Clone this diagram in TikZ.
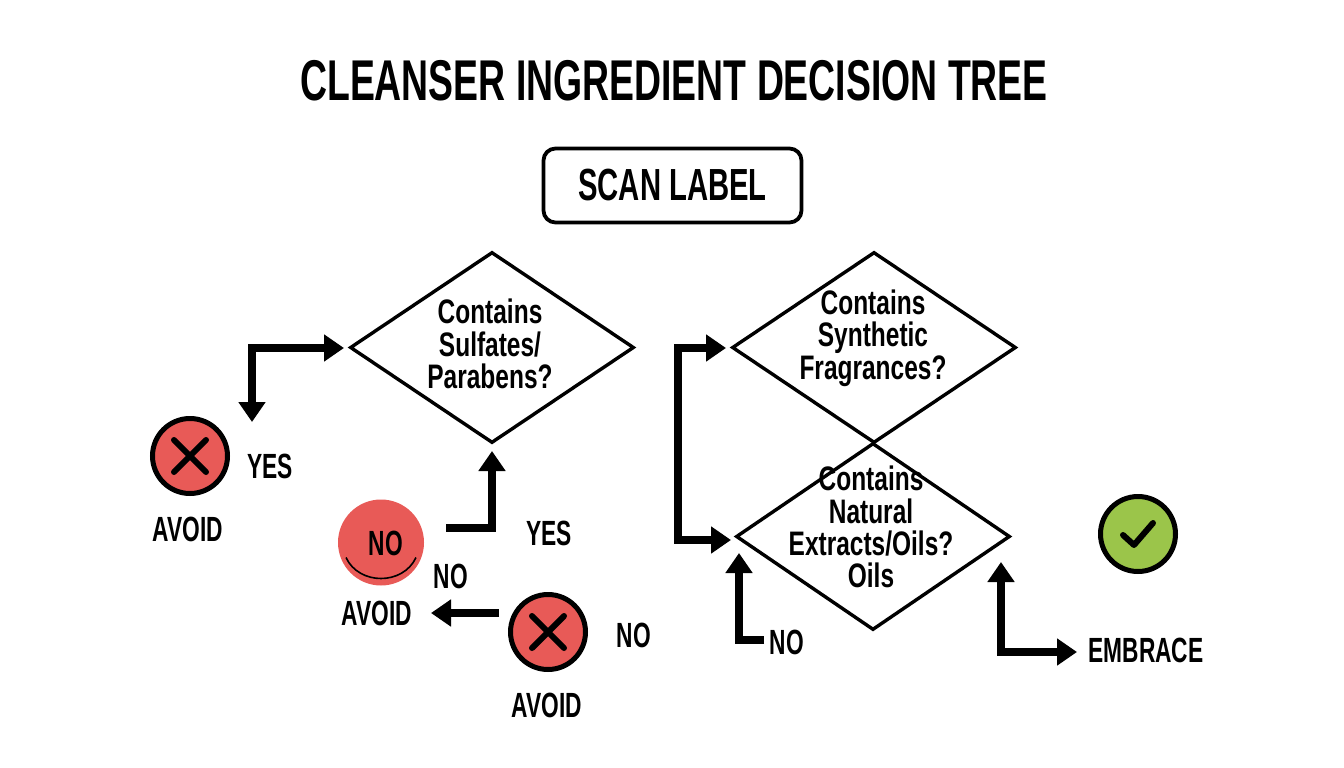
\documentclass[tikz,border=0pt]{standalone}
\usepackage{fontspec}
\setmainfont[FakeStretch=0.65,BoldFont={Liberation Sans Bold}]{Liberation Sans}
\newfontfamily\qfont[FakeStretch=0.72,BoldFont={Liberation Sans Bold}]{Liberation Sans}
\usetikzlibrary{arrows.meta,shapes.geometric,calc}
\definecolor{redc}{HTML}{E85A57}
\definecolor{greenc}{HTML}{9BC54A}
\tikzset{
  lbl/.style={font=\bfseries\fontsize{35}{38}\selectfont,inner sep=0pt,align=center},
  qtext/.style={font=\qfont\bfseries\fontsize{34}{32.3}\selectfont,inner sep=0pt,align=center},
  dia/.style={draw=black,line width=3.4pt,diamond,inner sep=0pt,line join=miter},
  badge/.style={circle,draw=black,line width=5pt,minimum size=75pt,inner sep=0pt},
  iconline/.style={line width=6pt,line cap=round,line join=round},
  arrowline/.style={line width=8pt,line join=miter,-{Triangle[width=26pt,length=20pt]}},
  arrowboth/.style={line width=8pt,line join=miter,{Triangle[width=26pt,length=20pt]}-{Triangle[width=26pt,length=20pt]}},
}
\begin{document}
\begin{tikzpicture}[x=1pt,y=-1pt]
\useasboundingbox[fill=white] (0,0) rectangle (1344,768);
\node[font=\bfseries\fontsize{57.5}{58}\selectfont,inner sep=0pt] (title) at (674,81) {CLEANSER INGREDIENT DECISION TREE};
\node[draw=black,line width=3.8pt,rounded corners=12pt,minimum width=258pt,minimum height=74pt,inner sep=0pt,font=\bfseries\fontsize{45}{45}\selectfont] (scan) at (672.5,185.5) {SCAN LABEL};
% diamonds
\node[dia,minimum width=284pt,minimum height=191pt] (d1) at (492,347.5) {};
\node[dia,minimum width=284pt,minimum height=191pt] (d2) at (874,347.5) {};
\node[dia,minimum width=274pt,minimum height=187pt] (d3) at (873,536.5) {};
\node[qtext] (t1) at (490,344) {Contains\\Sulfates/\\Parabens?};
\node[qtext] (t2) at (873,338) {Contains\\Synthetic\\Fragrances?};
\node[qtext] (t3) at (871,527) {Contains\\Natural\\Extracts/Oils?\\Oils};
% badges
\node[badge,fill=redc] (x1) at (190,456) {};
\draw[iconline] ($(x1)+(-16,-16)$) -- ($(x1)+(16,16)$) ($(x1)+(16,-16)$) -- ($(x1)+(-16,16)$);
\node[circle,fill=redc,minimum size=86pt,inner sep=0pt] (no) at (381,542.5) {};
\node[lbl] (nolabel) at (386,543) {NO};
\draw[line width=1.6pt] ($(no)+(-35,15)$) .. controls ($(no)+(-22,43)$) and ($(no)+(22,43)$) .. ($(no)+(35,15)$);
\node[badge,fill=redc] (x2) at (548,632) {};
\draw[iconline] ($(x2)+(-16,-16)$) -- ($(x2)+(16,16)$) ($(x2)+(16,-16)$) -- ($(x2)+(-16,16)$);
\node[badge,fill=greenc] (ok) at (1138,534) {};
\draw[iconline] ($(ok)+(-15,1)$) -- ($(ok)+(-4,11)$) -- ($(ok)+(15,-11)$);
% labels
\node[lbl] (l1) at (270,466) {YES};
\node[lbl] (l2) at (188,529) {AVOID};
\node[lbl] (l3) at (549,533) {YES};
\node[lbl] (l4) at (451,576) {NO};
\node[lbl] (l5) at (377,613) {AVOID};
\node[lbl] (l6) at (634,635) {NO};
\node[lbl] (l7) at (547,705) {AVOID};
\node[lbl] (l8) at (787,642) {NO};
\node[lbl] (l9) at (1146,650) {EMBRACE};
% connector ends
\coordinate (a1s) at (252,422);
\coordinate (a1e) at (344,348);
\coordinate (a2s) at (446,528);
\coordinate (a2e) at (492,451);
\coordinate (a3s) at (499,613);
\coordinate (a3e) at (431,613);
\coordinate (a4s) at (726,348);
\coordinate (a4v) at (678,348);
\coordinate (a4w) at (678,540);
\coordinate (a4e) at (731,540);
\coordinate (a5s) at (764,640);
\coordinate (a5e) at (739,553);
\coordinate (a6s) at (1001,562);
\coordinate (a6e) at (1077,652);
\draw[arrowboth] (a1s) |- (a1e);
\draw[arrowline] (a2s) -| (a2e);
\draw[arrowline] (a3s) -- (a3e);
\draw[arrowboth] (a4s) -- (a4v) -- (a4w) -- (a4e);
\draw[arrowline] (a5s) -| (a5e);
\draw[arrowboth] (a6s) |- (a6e);
\end{tikzpicture}
\end{document}
